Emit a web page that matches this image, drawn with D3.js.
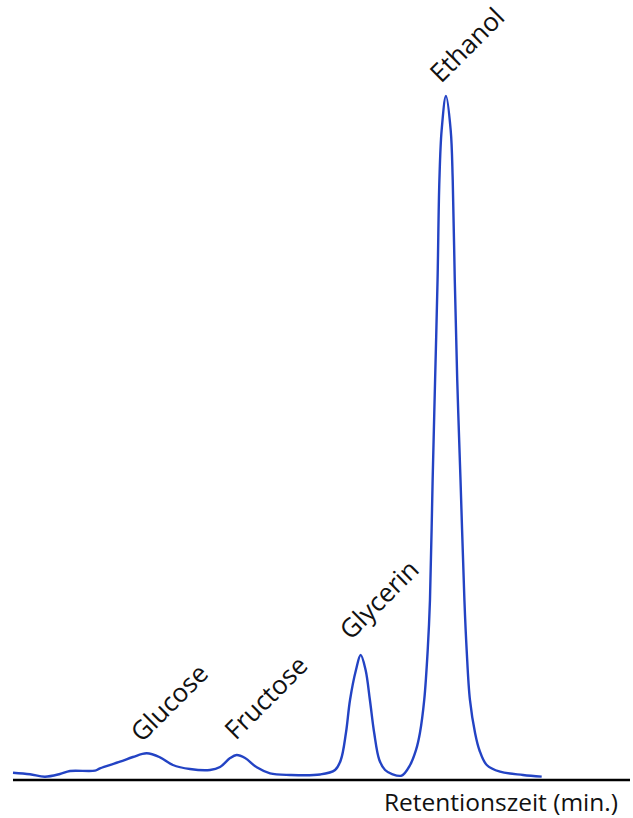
<!DOCTYPE html>
<html>
<head>
<meta charset="utf-8">
<script src="https://cdn.jsdelivr.net/npm/d3@7/dist/d3.min.js"></script>
<style>
  html, body { margin: 0; padding: 0; background: #fff; }
  svg { display: block; }
  text { font-family: "Open Sans", "Lato", sans-serif; fill: #111; }
</style>
</head>
<body>
<svg id="chart" width="633" height="818"></svg>
<script>
// Retention time (min) of each detector sample
const retentionTime = [
  0, 0.83, 1.56, 2.29, 2.78, 4.0, 4.24, 5.22, 5.85, 6.52, 7.17, 7.8, 8.63, 9.61,
  10.1, 10.59, 10.91, 11.32, 11.89, 12.54, 13.51, 14.98,
  15.71, 15.99, 16.24, 16.44, 16.73, 16.96, 17.2, 17.41, 17.62, 17.87, 18.15, 18.49, 18.96,
  19.37, 19.66, 19.85, 20.06, 20.23, 20.34, 20.47, 20.59, 20.71, 20.8, 20.91, 21.12,
  21.35, 21.45, 21.55, 21.67, 21.83, 22.02, 22.13, 22.29, 22.54, 22.75, 23.11, 23.76, 24.88, 25.79
];
// Detector signal (relative units)
const signal = [
  0.92, 0.69, 0.34, 0.73, 1.17, 1.22, 1.57, 2.53, 3.22, 3.76, 3.18, 2.05, 1.46, 1.32,
  1.76, 3.07, 3.51, 3.07, 1.71, 0.83, 0.59, 0.66,
  1.32, 2.78, 6.73, 11.57, 15.96, 18.16, 15.96, 11.57, 6.73, 2.78, 1.32, 0.73, 0.51,
  2.05, 4.25, 6.73, 11.57, 18.89, 26.21, 43.78, 58.42, 73.06, 87.7, 95.02, 100,
  95.02, 87.7, 73.06, 58.42, 43.78, 26.21, 18.89, 11.57, 6.73, 4.25, 2.05, 1.07, 0.59, 0.34
];

// Named peaks: substance and the retention time / height of its maximum
const peakNames = ["Glucose", "Fructose", "Glycerin", "Ethanol"];
const peakTimes = [6.52, 10.91, 16.96, 21.12];
const peakHeights = [3.76, 3.51, 18.16, 100];
const xAxisTitle = "Retentionszeit (min.)";

const svg = d3.select("#chart");

const x = d3.scaleLinear().domain([0, 30]).range([13, 628]);
const y = d3.scaleLinear().domain([0, 100]).range([779, 96]);

const points = retentionTime.map((t, i) => [t, signal[i]]);

// Chromatogram trace
svg.append("path")
  .datum(points)
  .attr("fill", "none")
  .attr("stroke", "#2343c4")
  .attr("stroke-width", 2.4)
  .attr("stroke-linejoin", "round")
  .attr("d", d3.line()
    .x(d => x(d[0]))
    .y(d => y(d[1]))
    .curve(d3.curveCatmullRom.alpha(0.5)));

// Time axis: a plain baseline without ticks
svg.append("line")
  .attr("x1", 13).attr("x2", 630)
  .attr("y1", 780).attr("y2", 780)
  .attr("stroke", "#000")
  .attr("stroke-width", 2.5);

svg.append("text")
  .attr("x", 618)
  .attr("y", 811)
  .attr("text-anchor", "end")
  .style("font-size", "24.5px")
  .text(xAxisTitle);

// Peak labels, written diagonally above each maximum
const labelOffsets = [[-5, -10], [-1, -14], [-10, -14], [-5, -12]];
svg.selectAll("text.peak")
  .data(peakNames)
  .join("text")
  .attr("class", "peak")
  .attr("transform", (d, i) => {
    const px = x(peakTimes[i]) + labelOffsets[i][0];
    const py = y(peakHeights[i]) + labelOffsets[i][1];
    return `translate(${px},${py}) rotate(-45)`;
  })
  .style("font-size", "26px")
  .text(d => d);
</script>
</body>
</html>
